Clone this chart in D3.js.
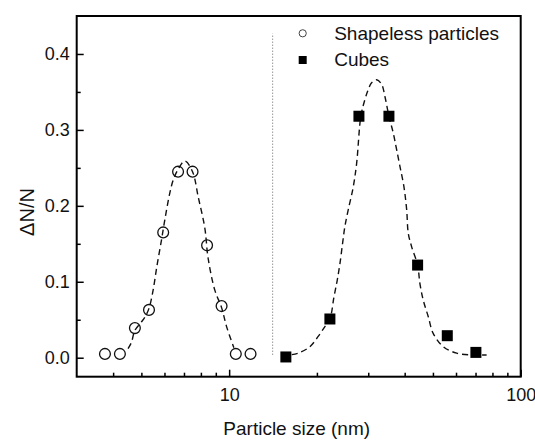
<!DOCTYPE html>
<html>
<head>
<meta charset="utf-8">
<title>Particle size distribution</title>
<script src="https://d3js.org/d3.v7.min.js"></script>
<style>
  body { margin: 0; background: #fff; }
  text { font-family: "Liberation Sans", Arial, sans-serif; }
</style>
</head>
<body>
<div id="chart"></div>
<script>

// measured points
var shapelessSize = [3.75, 4.22, 4.75, 5.31, 5.94, 6.68, 7.49, 8.40, 9.42, 10.54, 11.84];
var shapelessFrac = [0.005, 0.005, 0.039, 0.063, 0.165, 0.245, 0.245, 0.148, 0.068, 0.005, 0.005];

var cubeSize = [15.65, 22.16, 27.87, 35.32, 44.3, 56.0, 70.2];
var cubeFrac = [0.001, 0.051, 0.318, 0.318, 0.122, 0.029, 0.007];

// dashed fit curves
var fit1Size = [4.50, 4.62, 4.75, 5.00, 5.15, 5.31, 5.48, 5.66, 5.86, 6.02, 6.26, 6.43, 6.68, 7.05, 7.49, 7.83, 8.25, 8.47, 8.93, 9.42, 9.80, 10.38];
var fit1Frac = [0.012, 0.020, 0.036, 0.047, 0.054, 0.065, 0.088, 0.122, 0.155, 0.182, 0.217, 0.234, 0.248, 0.259, 0.245, 0.212, 0.171, 0.131, 0.089, 0.066, 0.041, 0.013];

var fit2Size = [16.4, 17.25, 18.92, 20.2, 21.3, 22.16, 22.88, 23.48, 23.99, 24.5, 24.95, 25.62, 26.65, 27.37, 28.3, 29.22, 29.99, 30.81, 32.05, 33.34, 34.22, 35.32, 36.54, 37.54, 38.53, 39.77, 40.63, 41.15, 42.27, 44.3, 45.1, 46.3, 48.2, 50.1, 54.25, 60.3, 68.8, 76.4];
var fit2Frac = [0.004, 0.006, 0.0145, 0.028, 0.041, 0.051, 0.080, 0.102, 0.124, 0.151, 0.173, 0.195, 0.225, 0.256, 0.318, 0.340, 0.353, 0.362, 0.366, 0.360, 0.344, 0.318, 0.296, 0.274, 0.252, 0.225, 0.195, 0.164, 0.146, 0.122, 0.098, 0.076, 0.054, 0.032, 0.0145, 0.006, 0.0036, 0.0036];

// axis ticks
var xMajor = [10, 100];
var xMinor = [4, 5, 6, 7, 8, 9, 20, 30, 40, 50, 60, 70, 80, 90];
var yMajor = [0.0, 0.1, 0.2, 0.3, 0.4];
var yMinor = [0.05, 0.15, 0.25, 0.35];

// dotted separator between the two populations
var sepSize = 14.1;
var sepFrac = [0.004, 0.427];

var legendNames = ["Shapeless particles", "Cubes"];

var width = 535, height = 440;
var margin = {top: 16, right: 14.3, bottom: 63.3, left: 76.7};

var svg = d3.select("#chart")
  .append("svg")
    .attr("width", width)
    .attr("height", height);

var x = d3.scaleLog()
  .domain([3, 100])
  .range([margin.left, width - margin.right]);

var y = d3.scaleLinear()
  .domain([-0.025, 0.45])
  .range([height - margin.bottom, margin.top]);

var pts1 = shapelessSize.map(function(d, i) { return {x: d, y: shapelessFrac[i]}; });
var pts2 = cubeSize.map(function(d, i) { return {x: d, y: cubeFrac[i]}; });
var fit1 = fit1Size.map(function(d, i) { return {x: d, y: fit1Frac[i]}; });
var fit2 = fit2Size.map(function(d, i) { return {x: d, y: fit2Frac[i]}; });

// separator
svg.append("line")
  .attr("x1", x(sepSize)).attr("x2", x(sepSize))
  .attr("y1", y(sepFrac[0])).attr("y2", y(sepFrac[1]))
  .attr("stroke", "#666")
  .attr("stroke-width", 1)
  .attr("stroke-dasharray", "1,2");

// fit lines
var line = d3.line()
  .x(function(d) { return x(d.x); })
  .y(function(d) { return y(d.y); })
  .curve(d3.curveCatmullRom.alpha(0.5));

svg.selectAll("path.fit")
  .data([fit1, fit2])
  .enter()
  .append("path")
    .attr("class", "fit")
    .attr("d", line)
    .attr("fill", "none")
    .attr("stroke", "#111")
    .attr("stroke-width", 1.4)
    .attr("stroke-dasharray", "6,4");

// markers
svg.selectAll("circle.shapeless")
  .data(pts1)
  .enter()
  .append("circle")
    .attr("class", "shapeless")
    .attr("cx", function(d) { return x(d.x); })
    .attr("cy", function(d) { return y(d.y); })
    .attr("r", 5.4)
    .attr("fill", "none")
    .attr("stroke", "#111")
    .attr("stroke-width", 1.3);

var sq = 11;
svg.selectAll("rect.cube")
  .data(pts2)
  .enter()
  .append("rect")
    .attr("class", "cube")
    .attr("x", function(d) { return x(d.x) - sq / 2; })
    .attr("y", function(d) { return y(d.y) - sq / 2; })
    .attr("width", sq)
    .attr("height", sq)
    .attr("fill", "#000");

// axes, ticks point inward
function styleAxis(g) {
  g.select(".domain").remove();
  g.selectAll("line").attr("stroke", "#000").attr("stroke-width", 1.5);
  g.selectAll("text").attr("fill", "#111").style("font-size", "18px")
    .style("font-family", "'Liberation Sans', Arial, sans-serif");
}

svg.append("g")
  .attr("transform", "translate(" + margin.left + ",0)")
  .call(d3.axisLeft(y).tickValues(yMajor).tickSizeInner(-7).tickSizeOuter(0)
    .tickPadding(7).tickFormat(d3.format(".1f")))
  .call(styleAxis);

svg.append("g")
  .attr("transform", "translate(" + margin.left + ",0)")
  .call(d3.axisLeft(y).tickValues(yMinor).tickSizeInner(-4).tickSizeOuter(0).tickFormat(""))
  .call(styleAxis);

svg.append("g")
  .attr("transform", "translate(0," + (height - margin.bottom) + ")")
  .call(d3.axisBottom(x).tickValues(xMajor).tickSizeInner(-7).tickSizeOuter(0)
    .tickPadding(12).tickFormat(d3.format("d")))
  .call(styleAxis);

svg.append("g")
  .attr("transform", "translate(0," + (height - margin.bottom) + ")")
  .call(d3.axisBottom(x).tickValues(xMinor).tickSizeInner(-4).tickSizeOuter(0).tickFormat(""))
  .call(styleAxis);

// frame
svg.append("rect")
  .attr("x", margin.left)
  .attr("y", margin.top)
  .attr("width", width - margin.left - margin.right)
  .attr("height", height - margin.top - margin.bottom)
  .attr("fill", "none")
  .attr("stroke", "#000")
  .attr("stroke-width", 2);

// axis titles
svg.append("text")
  .attr("x", (margin.left + width - margin.right) / 2 - 2)
  .attr("y", 435)
  .attr("text-anchor", "middle")
  .style("font-size", "19px")
  .attr("fill", "#111")
  .text("Particle size (nm)");

svg.append("text")
  .attr("transform", "translate(34,212) rotate(-90)")
  .attr("text-anchor", "middle")
  .style("font-size", "20px")
  .attr("fill", "#111")
  .text("ΔN/N");

// legend
var legend = svg.append("g")
  .attr("transform", "translate(302.7,33.3)");

legend.append("circle")
  .attr("cx", 0).attr("cy", 0).attr("r", 3.6)
  .attr("fill", "#fff")
  .attr("stroke", "#444")
  .attr("stroke-width", 1);

legend.append("rect")
  .attr("x", -4).attr("y", 26.7 - 4)
  .attr("width", 8).attr("height", 8)
  .attr("fill", "#000");

legend.selectAll("text")
  .data(legendNames)
  .enter()
  .append("text")
    .attr("x", 31.5)
    .attr("y", function(d, i) { return 6.7 + i * 26; })
    .style("font-size", "19px")
    .attr("fill", "#111")
    .text(function(d) { return d; });

</script>
</body>
</html>
